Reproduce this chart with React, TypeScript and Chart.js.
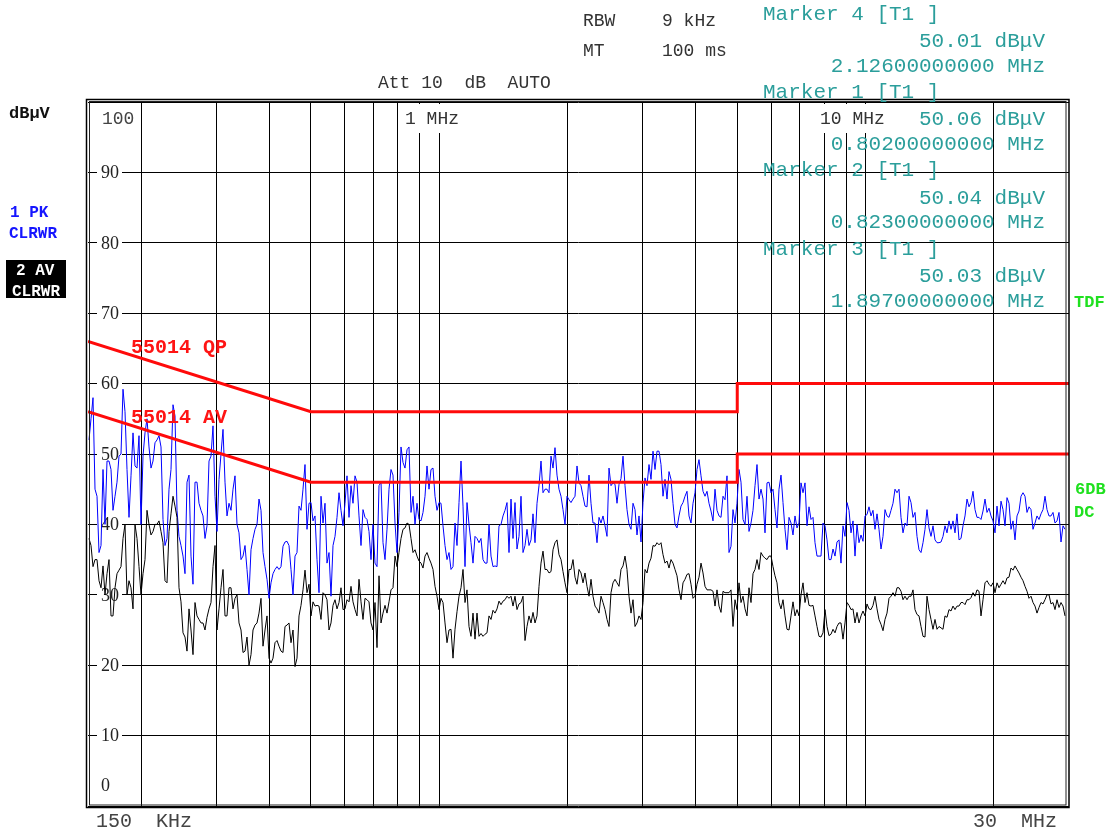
import { useEffect, useRef } from 'react';
import { Chart, registerables } from 'chart.js';

Chart.register(...registerables);

// ---- sweep definition ----
const START_HZ = 150e3;
const STOP_HZ = 30e6;

// vertical grid lines (Hz) and level ticks (dBuV)
const GRID_FREQS = [2e5, 3e5, 4e5, 5e5, 6e5, 7e5, 8e5, 9e5, 1e6, 2e6, 3e6, 4e6, 5e6, 6e6, 7e6, 8e6, 9e6, 1e7, 2e7];
const LEVEL_TICKS = [10, 20, 30, 40, 50, 60, 70, 80, 90];
const FREQ_LABELS = ['1 MHz', '10 MHz'];

// EN 55014 limit lines
const LIMIT_FREQS = [150e3, 500e3, 5e6, 5e6, 30e6];
const QP_LIMIT = [66, 56, 56, 60, 60];
const AV_LIMIT = [56, 46, 46, 50, 50];

// ---- trace 1: PK (blue) (even display bins) ----
const pkSeg1 = [52, 58, 44, 37, 40, 49, 42, 46, 50, 56, 41, 53, 48, 40, 53, 51, 49, 52, 51, 37, 45, 57, 42, 37, 33, 47, 31.5, 46, 42, 38, 49, 54, 39, 50, 46, 43, 45, 40, 35, 37, 30];
const pkSeg2 = [38, 40, 42, 34, 29.5, 33, 34, 34, 37.5, 37, 30, 36, 42, 48.5, 43, 40.5, 35, 44, 43, 36, 37, 41, 42, 43, 41, 43, 46, 37, 41, 39, 40, 34, 46, 35, 45, 47, 36, 51, 48, 51, 44];
const pkSeg3 = [43, 40.5, 44, 45, 48, 42, 43, 37, 36, 34, 37, 49, 34, 40, 34.5, 38, 38, 34.5, 40, 34, 34, 40, 42, 36, 38, 36.5, 44, 37, 37, 41.5, 43, 49, 45, 44.5, 48, 47, 44, 40, 43.5, 43.6, 48.3];
const pkSeg4 = [45.5, 42.6, 47, 40.2, 37.4, 40.2, 39.8, 48, 45.9, 43, 46.5, 45.5, 40, 43, 38.5, 37.5, 46.6, 48.5, 50.4, 50.4, 48.5, 46.4, 47.5, 43, 39.5, 42.6, 44, 41.2, 43, 47.8, 46.9, 44, 43, 40.5, 42, 41, 43.5, 36, 42.1, 43, 46];
const pkSeg5 = [40, 39, 42, 48.5, 45, 38.8, 46, 45, 39.5, 47, 39.3, 41, 38.5, 39.5, 45.9, 45.9, 42.5, 41, 35.5, 35.5, 39.8, 35, 36.5, 37.5, 34.5, 38.3, 42, 40.5, 40, 38.5, 41.2, 42.5, 42, 41.5, 36.5, 42.1, 41, 43, 44.5, 41, 40.2];
const pkSeg6 = [44, 41, 38.3, 36, 39.3, 39.5, 39.8, 37.4, 37.5, 39.8, 40.5, 40.5, 41.5, 38, 41.2, 42.5, 44.7, 41, 40.7, 43.6, 42.3, 40.5, 42.6, 43.3, 39.8, 43, 40.5, 41.2, 44, 44, 42.5, 39.3, 41.2, 41.5, 44, 41.2, 41.7, 40.5, 37.5, 39.3];
// PK, odd display bins (between the even ones)
const pkMid1 = [55, 45, 36, 47.8, 49, 47.8, 44, 49.7, 59.2, 47.8, 46.9, 48.3, 52.6, 49.7, 55, 48, 51.6, 52.6, 40.7, 38, 47.8, 55.4, 38.3, 35.5, 46, 35.5, 46, 43, 41.2, 39.8, 49.7, 44, 46.4, 53.5, 41.2, 42, 46.9, 38.8, 35.5, 33.6, 36.4];
const pkMid2 = [39.3, 43.6, 36, 32.2, 31.7, 33.6, 33.6, 36.9, 37.6, 33.6, 35.5, 42.6, 45, 39.3, 43.1, 41.2, 30.3, 40.2, 34.5, 29.8, 38.3, 44.5, 39.8, 46.9, 45.5, 46.9, 41.2, 42.1, 40.7, 35, 34.5, 45.5, 37.4, 39.3, 47.8, 40.2, 41.7, 48.8, 50.6, 41.7, 40];
const pkMid3 = [40.7, 41.7, 48.3, 47.8, 44, 43.1, 39.8, 35, 33.6, 40.2, 43.1, 42.6, 43.1, 37.4, 38.3, 37.4, 35, 34.5, 35.5, 34.1, 39.8, 41.2, 43.1, 43.6, 43.1, 38.3, 36, 39.3, 37.8, 37.4, 45.5, 44.5, 45, 49.7, 50.9, 45, 42.1, 44, 43.1, 44, 45.9];
const pkMid4 = [44, 42.5, 43, 40.2, 41, 41.2, 38.3, 45.5, 45.7, 45.7, 49.7, 42.1, 39.3, 42.1, 41.2, 43.1, 45.5, 46.4, 47.8, 50.4, 44, 43.6, 46.4, 40, 41.2, 43.1, 44.7, 40.2, 44.5, 49.2, 44.7, 44.7, 41.9, 45, 41.2, 44, 46.9, 36.9, 40.2, 47.8, 40.7];
const pkMid5 = [44, 40.2, 45.5, 43.6, 43.6, 45.9, 44.5, 42.1, 45, 43.1, 36.4, 40.2, 41.2, 40.2, 44.5, 39.8, 40.7, 37.4, 35.5, 40.2, 37.8, 35, 35.5, 37.8, 39.8, 43.1, 38.8, 35.5, 37.4, 37.6, 41.4, 41.2, 39.3, 39.3, 38.3, 41.2, 42, 45, 45, 38.8, 39.8];
const pkMid6 = [43.1, 41.7, 36.4, 37.4, 42.1, 38.3, 37.8, 37.4, 38.3, 38.8, 39.3, 38.8, 37.8, 39.8, 43.6, 43.1, 42.1, 41, 41.9, 41.7, 41.2, 38.8, 39.8, 42.1, 43.8, 39.3, 37.8, 41.9, 44.5, 41.7, 42.1, 40.2, 40.7, 42.1, 42.1, 41.2, 40.2, 41.7, 39.8];

// ---- trace 2: AV (black) ----
const avSeg1 = [38, 34, 35, 31, 30, 35, 27, 33, 34, 40, 32, 28, 38, 30, 35, 40, 39, 40, 39, 32, 39, 44, 41, 29, 24, 28, 21.5, 27, 26, 25, 28, 34, 25, 31, 27, 31, 28, 30, 25, 22, 20];
const avSeg2 = [25, 26, 29.5, 25, 21, 21, 23.5, 22, 25.5, 26, 25, 21, 28.5, 33.5, 31.5, 29, 28.5, 26.5, 30, 25, 28.5, 28, 31, 28, 29, 29, 27, 29, 29.5, 29, 25, 22.5, 26, 28.5, 29, 31, 34, 38, 39.5, 40, 36];
const avSeg3 = [35.5, 34.5, 35.5, 35.2, 33.6, 29.8, 29.5, 26, 25, 21, 27.6, 31, 28.9, 25.5, 27.4, 27.4, 24.5, 24.4, 27, 27.8, 28, 28.6, 29.3, 29.5, 28.4, 27.9, 28.9, 23.5, 27, 27.5, 27, 34.5, 33.6, 33.1, 36.4, 37.8, 35, 31.7, 33.6, 35, 31.5];
const avSeg4 = [33.1, 33.1, 29.8, 29.8, 28, 29.8, 27.9, 25.5, 31.7, 31.7, 33.6, 35.5, 29.8, 29.3, 26, 26.5, 33.6, 34.5, 37, 37.4, 37.4, 34.5, 33.8, 34.5, 32.7, 29.3, 32.2, 33, 29.5, 31.5, 34.5, 31.2, 30.7, 30.5, 30.7, 27.5, 30.3, 30.3, 25.5, 27.9, 28.9];
const avSeg5 = [28, 31, 33, 35, 36, 35.2, 35.5, 34, 31.7, 28, 27, 25, 29, 27.9, 30, 28.9, 28.5, 28.5, 25.5, 24, 27.9, 24.2, 25.1, 25.5, 26, 26, 28.5, 28, 27.5, 27, 27, 28, 28.5, 28, 25.8, 26.5, 29.5, 30.3, 31, 30.5, 29.8];
const avSeg6 = [29.8, 30.7, 27.2, 25.5, 24, 27.9, 25.1, 25.1, 25.3, 27, 27.9, 28.4, 28.4, 28.9, 28.6, 29.3, 30.3, 30.7, 27, 31.7, 31.5, 31.7, 31.7, 31.5, 31.5, 32.5, 33.5, 33.6, 32.5, 31.2, 29.5, 28.9, 27.4, 28.9, 29.3, 30, 28.9, 29.3, 28.9, 27];
const avMid1 = [37, 35, 32, 34.1, 33, 27, 31, 33.5, 38, 30, 31, 40, 34, 33, 42, 38.5, 40, 40.5, 37.4, 31.7, 41.5, 42.6, 31, 24.6, 22, 25, 28.9, 26.5, 26, 26.8, 28.9, 37, 28, 33.6, 27, 31, 29.5, 26, 21.8, 24, 21.5];
const avMid2 = [25.7, 27.4, 22.7, 27, 20.3, 23.2, 22.7, 21.8, 25.7, 23.2, 19.8, 27, 30.7, 30.3, 27, 28.4, 28.4, 30.3, 29.3, 26, 29.3, 28.9, 27.9, 29.3, 31.2, 27.9, 32.2, 26.5, 29.3, 26, 28.9, 32.7, 27.4, 27.4, 30.7, 35.5, 36, 39.3, 40.2, 38, 36.4];
const avMid3 = [34.8, 33.8, 36, 34.5, 31.2, 27.9, 28.9, 23.2, 25.1, 25.1, 29.8, 33.6, 30.7, 24.1, 23.7, 24.1, 24.1, 24.6, 26.5, 27.4, 29.1, 29.1, 29.8, 29.8, 29.8, 28.7, 29.8, 25.5, 26, 26, 31.2, 36.2, 33.6, 33.3, 37.4, 35.7, 33.3, 30.3, 33.6, 32.5, 33.6];
const avMid4 = [31.7, 31.2, 32.2, 28.4, 27.4, 28.9, 26.5, 30.3, 32.2, 31.2, 34.1, 33.6, 27.4, 25.5, 27, 28.9, 33.1, 35.2, 36.9, 37.1, 35.7, 34.8, 35, 33.6, 30.7, 31.7, 32.9, 31.5, 29.8, 32.5, 33.1, 30.7, 30.7, 28.4, 28.4, 30.5, 30.3, 30.7, 29.3, 31.7, 29.8];
const avMid5 = [27, 28.9, 33.6, 33.6, 35.5, 35, 35.5, 32.7, 28.9, 29.3, 25.1, 27, 27, 27, 31.7, 30.3, 28.4, 27, 24.1, 24.6, 25.5, 24.4, 24.6, 26, 23.7, 28.9, 27.9, 26, 26, 27.7, 28.7, 27.9, 29.8, 26.5, 24.9, 27.4, 29.8, 29.8, 31, 29.3, 29.3];
const avMid6 = [29.8, 27.9, 27, 24.1, 29.8, 26.5, 26.5, 25.5, 25.1, 26.8, 27.7, 27.9, 28.4, 28.9, 29.3, 29.6, 29.8, 30.5, 29.3, 32, 31.2, 30.3, 31, 32, 32.4, 33.8, 34.1, 33.1, 32, 30.5, 29.8, 28.4, 28.2, 28.7, 30, 28.7, 27.9, 28.2, 28.4];

function weave(even: number[], odd: number[]): number[] {
  const out: number[] = [];
  even.forEach((v, i) => {
    out.push(v);
    if (i < odd.length) out.push(odd[i]);
  });
  return out;
}

const PK_TRACE = weave(
  [...pkSeg1, ...pkSeg2, ...pkSeg3, ...pkSeg4, ...pkSeg5, ...pkSeg6],
  [...pkMid1, ...pkMid2, ...pkMid3, ...pkMid4, ...pkMid5, ...pkMid6],
);
const AV_TRACE = weave(
  [...avSeg1, ...avSeg2, ...avSeg3, ...avSeg4, ...avSeg5, ...avSeg6],
  [...avMid1, ...avMid2, ...avMid3, ...avMid4, ...avMid5, ...avMid6],
);

// marker readout
const MARKER_NAMES = ['Marker 4 [T1 ]', 'Marker 1 [T1 ]', 'Marker 2 [T1 ]', 'Marker 3 [T1 ]'];
const MARKER_LEVELS = ['50.01 dBμV', '50.06 dBμV', '50.04 dBμV', '50.03 dBμV'];
const MARKER_FREQS = ['2.12600000000 MHz', '0.80200000000 MHz', '0.82300000000 MHz', '1.89700000000 MHz'];

// sweep points: equally spaced on the log frequency axis (one per display bin)
const SWEEP_FREQS = PK_TRACE.map((_, i) => START_HZ * Math.pow(STOP_HZ / START_HZ, (1 + 2 * i) / 981));

const MONO = '"Liberation Mono", "DejaVu Sans Mono", monospace';
const SERIF = '"Liberation Serif", "DejaVu Serif", serif';
const TEAL = '#2b9e9b';

function drawText(ctx: CanvasRenderingContext2D, s: string, x: number, y: number, font: string, color: string, align: CanvasTextAlign = 'left') {
  ctx.font = font;
  ctx.fillStyle = color;
  ctx.textAlign = align;
  ctx.textBaseline = 'middle';
  ctx.fillText(s, x, y);
}

const decorPlugin = {
  id: 'decor',
  beforeDatasetsDraw(chart: any) {
    const { ctx, scales } = chart;
    const y = scales.y;
    ctx.save();
    for (const v of LEVEL_TICKS) {
      const py = y.getPixelForValue(v);
      ctx.fillStyle = '#ffffff';
      ctx.fillRect(97, py - 10, 25, 20);
      drawText(ctx, String(v), 101, py + 1, `18px ${SERIF}`, '#222');
    }
    drawText(ctx, '100', 102, 119, `18px ${MONO}`, '#444');
    drawText(ctx, '0', 101, 786, `18px ${SERIF}`, '#222');
    // frequency labels inside the top of the diagram
    const lblX = [405, 820];
    FREQ_LABELS.forEach((s, i) => {
      ctx.fillStyle = '#ffffff';
      ctx.fillRect(lblX[i] - 2, 104, s.length * 10.8 + 4, 29);
      drawText(ctx, s, lblX[i], 119, `18px ${MONO}`, '#333');
    });
    ctx.restore();
  },
  afterDraw(chart: any) {
    const { ctx } = chart;
    ctx.save();
    // double frame
    ctx.strokeStyle = '#000';
    ctx.lineWidth = 1.5;
    ctx.strokeRect(86.5, 99.5, 982.5, 708);
    ctx.lineWidth = 1;
    ctx.strokeStyle = '#222';
    ctx.strokeRect(89.5, 101.5, 976.5, 703.5);

    // header
    drawText(ctx, 'RBW', 583, 21, `18px ${MONO}`, '#333');
    drawText(ctx, '9 kHz', 662, 21, `18px ${MONO}`, '#333');
    drawText(ctx, 'MT', 583, 51, `18px ${MONO}`, '#333');
    drawText(ctx, '100 ms', 662, 51, `18px ${MONO}`, '#333');
    drawText(ctx, 'Att 10  dB  AUTO', 378, 83, `18px ${MONO}`, '#333');

    // left side labels
    drawText(ctx, 'dBμV', 9, 114, `bold 17px ${MONO}`, '#111');
    drawText(ctx, '1 PK', 10, 213, `bold 16px ${MONO}`, '#1515ff');
    drawText(ctx, 'CLRWR', 9, 234, `bold 16px ${MONO}`, '#1515ff');
    ctx.fillStyle = '#000';
    ctx.fillRect(6, 260, 60, 38);
    drawText(ctx, '2 AV', 16, 271, `bold 16px ${MONO}`, '#fff');
    drawText(ctx, 'CLRWR', 12, 292, `bold 16px ${MONO}`, '#fff');

    // right side labels
    drawText(ctx, 'TDF', 1074, 303, `bold 17px ${MONO}`, '#1fe01f');
    drawText(ctx, '6DB', 1075, 490, `bold 17px ${MONO}`, '#1fe01f');
    drawText(ctx, 'DC', 1074, 513, `bold 17px ${MONO}`, '#1fe01f');

    // limit line names
    drawText(ctx, '55014 QP', 131, 348, `bold 20px ${MONO}`, '#ff1414');
    drawText(ctx, '55014 AV', 131, 418, `bold 20px ${MONO}`, '#ff1414');

    // bottom labels
    drawText(ctx, '150  KHz', 96, 822, `20px ${MONO}`, '#444');
    drawText(ctx, '30  MHz', 973, 822, `20px ${MONO}`, '#444');

    // marker readout
    MARKER_NAMES.forEach((name, k) => {
      const y0 = 14 + k * 78.4;
      drawText(ctx, name, 763, y0, `21px ${MONO}`, TEAL);
      drawText(ctx, MARKER_LEVELS[k], 1045, y0 + 27.5, `21px ${MONO}`, TEAL, 'right');
      drawText(ctx, MARKER_FREQS[k], 1045, y0 + 52, `21px ${MONO}`, TEAL, 'right');
    });
    ctx.restore();
  },
};

export default function App() {
  const ref = useRef<HTMLCanvasElement>(null);

  useEffect(() => {
    if (!ref.current) return;
    const pk = SWEEP_FREQS.map((f, i) => ({ x: f, y: PK_TRACE[i] }));
    const av = SWEEP_FREQS.map((f, i) => ({ x: f, y: AV_TRACE[i] }));
    const qp = LIMIT_FREQS.map((f, i) => ({ x: f, y: QP_LIMIT[i] }));
    const avl = LIMIT_FREQS.map((f, i) => ({ x: f, y: AV_LIMIT[i] }));

    const chart = new Chart(ref.current, {
      type: 'line',
      data: {
        datasets: [
          { label: '55014 QP', data: qp, borderColor: '#ff0a0a', borderWidth: 3, pointRadius: 0, order: 0, tension: 0 },
          { label: '55014 AV', data: avl, borderColor: '#ff0a0a', borderWidth: 3, pointRadius: 0, order: 0, tension: 0 },
          { label: '2 AV', data: av, borderColor: '#000000', borderWidth: 1, pointRadius: 0, order: 1, tension: 0 },
          { label: '1 PK', data: pk, borderColor: '#0000ff', borderWidth: 1, pointRadius: 0, order: 2, tension: 0 },
        ],
      },
      options: {
        animation: false,
        responsive: false,
        events: [],
        layout: { padding: { left: 88, right: 44, top: 102, bottom: 26 } },
        plugins: { legend: { display: false }, tooltip: { enabled: false }, title: { display: false } },
        scales: {
          x: {
            type: 'logarithmic',
            min: START_HZ,
            max: STOP_HZ,
            ticks: { display: false },
            grid: { color: '#000', lineWidth: 1, drawTicks: false },
            border: { display: false },
            afterBuildTicks: (scale: any) => {
              scale.ticks = GRID_FREQS.map((v) => ({ value: v }));
            },
          },
          y: {
            type: 'linear',
            min: 0,
            max: 100,
            ticks: { display: false, stepSize: 10 },
            grid: { color: '#000', lineWidth: 1, drawTicks: false },
            border: { display: false },
          },
        },
      },
      plugins: [decorPlugin],
    });
    return () => chart.destroy();
  }, []);

  return (
    <div style={{ position: 'fixed', left: 0, top: 0, width: 1113, height: 832, background: '#fff' }}>
      <canvas ref={ref} width={1113} height={832} style={{ display: 'block', width: 1113, height: 832 }} />
    </div>
  );
}
